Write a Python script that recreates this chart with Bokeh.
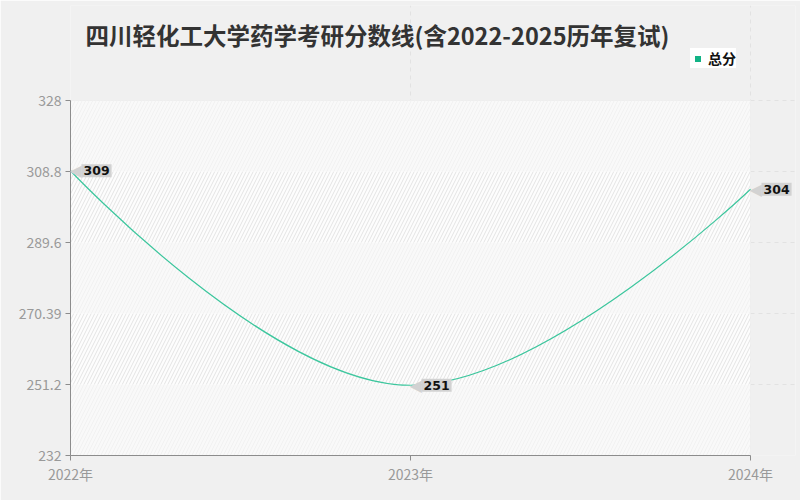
import math

from bokeh.plotting import figure
from bokeh.models import (ColumnDataSource, Label, BoxAnnotation, FixedTicker,
                          Legend, LegendItem, Range1d)
from bokeh.embed import file_html
from bokeh.resources import INLINE

# chart data
years = [2022, 2023, 2024]
scores = [309, 251, 304]
year_labels = ["2022年", "2023年", "2024年"]
y_ticks = [232, 251.2, 270.39, 289.6, 308.8, 328]
y_tick_labels = ["232", "251.2", "270.39", "289.6", "308.8", "328"]
title_text = "四川轻化工大学药学考研分数线(含2022-2025历年复试)"
series_name = "总分"

FONT = "Noto Sans CJK SC"
LINE_COLOR = "#3cc69d"

# layout (pixels): plot area spans 680 x 355, frame is stretched beyond it
W, H = 800, 500
AREA_W, AREA_H = 680.0, 355.0
LEFT, BOTTOM, TOP_PAD, RIGHT_PAD = 70, 45, 5, 5
sx = AREA_W / (years[-1] - years[0])
sy = AREA_H / (y_ticks[-1] - y_ticks[0])
frame_w = W - LEFT - RIGHT_PAD
frame_h = H - BOTTOM - TOP_PAD


def clamp(v, a, b):
    return min(max(v, min(a, b)), max(a, b))


def smooth_segments(xs, ys, smooth=0.4):
    """Bezier segments of a smoothed line (echarts-like, computed in pixel space)."""
    pts = [(x * sx, y * sy) for x, y in zip(xs, ys)]
    n = len(pts)
    seg = dict(x0=[], y0=[], x1=[], y1=[], cx0=[], cy0=[], cx1=[], cy1=[])
    cp0 = pts[0]
    for i in range(1, n):
        px, py = pts[i - 1]
        x, y = pts[i]
        nxt_cp0 = None
        if i == n - 1:
            cp1 = (x, y)
        else:
            nx, ny = pts[i + 1]
            vx, vy = nx - px, ny - py
            len_prev = math.hypot(x - px, y - py)
            len_next = math.hypot(nx - x, ny - y)
            r = len_next / (len_next + len_prev)
            ncx = clamp(x + vx * smooth * r, x, nx)
            ncy = clamp(y + vy * smooth * r, y, ny)
            vx, vy = ncx - x, ncy - y
            c1x = clamp(x - vx * len_prev / len_next, px, x)
            c1y = clamp(y - vy * len_prev / len_next, py, y)
            vx, vy = x - c1x, y - c1y
            nxt_cp0 = (x + vx * len_next / len_prev, y + vy * len_next / len_prev)
            cp1 = (c1x, c1y)
        seg["x0"].append(px / sx)
        seg["y0"].append(py / sy)
        seg["x1"].append(x / sx)
        seg["y1"].append(y / sy)
        seg["cx0"].append(cp0[0] / sx)
        seg["cy0"].append(cp0[1] / sy)
        seg["cx1"].append(cp1[0] / sx)
        seg["cy1"].append(cp1[1] / sy)
        cp0 = nxt_cp0
    return seg


p = figure(width=W, height=H, output_backend="svg", toolbar_location=None,
           x_range=Range1d(years[0], years[0] + frame_w / sx),
           y_range=Range1d(y_ticks[0], y_ticks[0] + frame_h / sy),
           min_border_left=LEFT, min_border_right=RIGHT_PAD,
           min_border_top=TOP_PAD, min_border_bottom=BOTTOM)

p.border_fill_color = "#f0f0f0"
p.background_fill_color = "#f0f0f0"
p.outline_line_color = None

# plot area with alternating hatched bands
p.add_layout(BoxAnnotation(left=years[0], right=years[-1], bottom=y_ticks[0], top=y_ticks[-1],
                           fill_color="#fdfdfd", fill_alpha=1.0, line_color="#e2e2e2",
                           line_alpha=1.0, line_width=1, level="underlay"))
for i, (b, t) in enumerate(zip(y_ticks[:-1], y_ticks[1:])):
    dark = i % 2 == 1
    p.add_layout(BoxAnnotation(left=years[0], right=years[-1], bottom=b, top=t,
                               fill_color="#fdfdfd" if dark else "#f9f9f9", fill_alpha=1.0,
                               line_color=None, hatch_pattern="/",
                               hatch_color="#e4e4e4" if dark else "#f1f1f1", hatch_alpha=1.0,
                               hatch_scale=7, hatch_weight=1, level="underlay"))

# title
p.add_layout(Label(x=15, y=AREA_H + 66, x_units="screen", y_units="screen", text=title_text,
                   text_font=FONT, text_font_size="23.5px", text_font_style="bold",
                   text_color="#333333", text_align="left", text_baseline="middle"))

# smooth line
seg = smooth_segments(years, scores)
p.bezier(x0="x0", y0="y0", x1="x1", y1="y1", cx0="cx0", cy0="cy0", cx1="cx1", cy1="cy1",
         source=ColumnDataSource(seg), line_color=LINE_COLOR, line_width=1.2)

# value callouts
for yr, sc in zip(years, scores):
    p.add_layout(Label(x=yr, y=sc, text="◀", text_font="DejaVu Sans", text_font_size="16px",
                       text_color="#d2d2d2", text_align="left", text_baseline="middle",
                       x_offset=-1, y_offset=0))
    p.add_layout(Label(x=yr, y=sc, text=str(sc), text_font="DejaVu Sans",
                       text_font_size="12.5px", text_font_style="bold", text_color="#111111",
                       text_align="left", text_baseline="middle", x_offset=11,
                       background_fill_color="#d2d2d2", padding=2))

# legend (square marker only shown in the legend)
sq = p.scatter(x=years, y=scores, marker="square", size=0, fill_color="#12b386",
               line_color=None)
legend = Legend(items=[LegendItem(label=series_name, renderers=[sq])],
                location=(620, AREA_H + 32),
                background_fill_color="white", background_fill_alpha=1.0,
                border_line_color=None, label_text_font=FONT, label_text_font_size="14px",
                label_text_font_style="bold", label_text_color="#111111",
                glyph_width=15, glyph_height=15, label_height=15,
                label_standoff=3, padding=5, margin=0)
p.add_layout(legend)

# axes
p.xaxis.ticker = FixedTicker(ticks=years)
p.xaxis.major_label_overrides = {yr: lab for yr, lab in zip(years, year_labels)}
p.xaxis.bounds = (years[0], years[-1])
p.yaxis.ticker = FixedTicker(ticks=y_ticks)
p.yaxis.major_label_overrides = {t: lab for t, lab in zip(y_ticks, y_tick_labels)}
p.yaxis.bounds = (y_ticks[0], y_ticks[-1])
for ax in (p.xaxis, p.yaxis):
    ax.axis_line_color = "#8c8c8c"
    ax.major_tick_line_color = "#8c8c8c"
    ax.major_tick_out = 5
    ax.major_tick_in = 0
    ax.minor_tick_line_color = None
    ax.major_label_text_color = "#999999"
    ax.major_label_text_font = FONT
    ax.major_label_text_font_size = "14px"
p.xaxis.major_label_standoff = 3
p.yaxis.major_label_standoff = 4

p.xgrid.ticker = FixedTicker(ticks=years)
p.xgrid.bounds = (y_ticks[0], y_ticks[-1])
p.ygrid.ticker = FixedTicker(ticks=y_ticks)
p.ygrid.bounds = (years[0], years[-1])
p.grid.grid_line_color = "#e2e2e2"
p.grid.grid_line_dash = "4 4"

open("out.html", "w").write(file_html(p, INLINE))
